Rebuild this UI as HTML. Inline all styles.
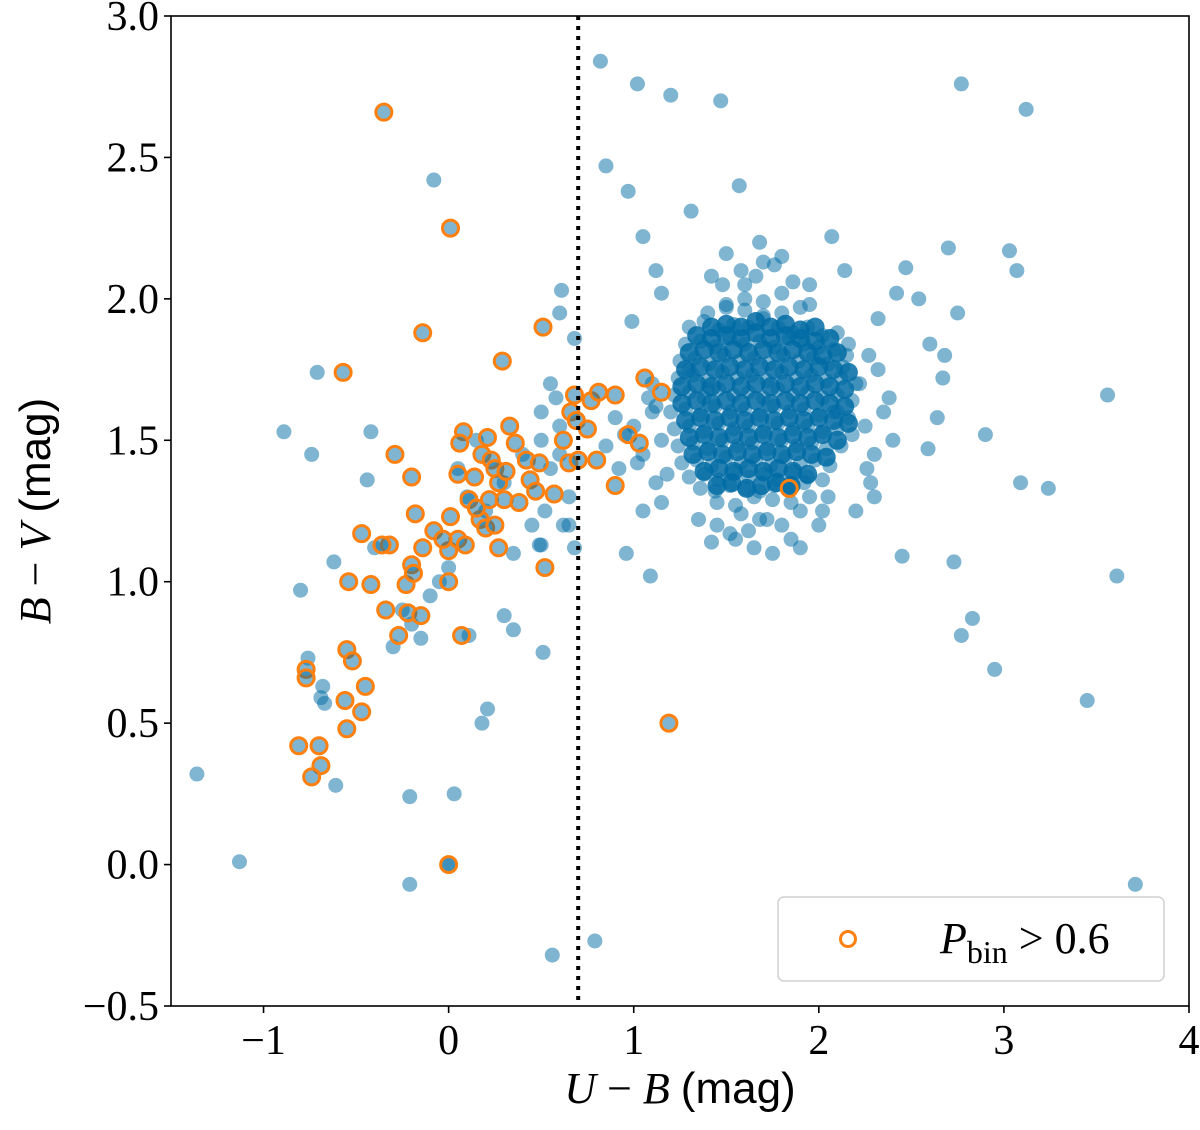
<!DOCTYPE html>
<html><head><meta charset="utf-8"><style>
body{margin:0;background:#fff}
svg text{font-family:"Liberation Serif",serif;fill:#000}
</style></head><body>
<svg id="chart" width="1200" height="1125" viewBox="0 0 1200 1125" xmlns="http://www.w3.org/2000/svg">
<g id="blue"></g>
<g id="orange"></g>
<line id="vline" stroke="#000" stroke-width="4" stroke-dasharray="4,6"/>
<rect x="171" y="16" width="1018" height="990" fill="none" stroke="#000" stroke-width="1.6"/>
<g id="xticks"></g>
<g id="yticks"></g>
<text x="680" y="1103" text-anchor="middle" font-size="44"><tspan font-style="italic">U</tspan> − <tspan font-style="italic">B</tspan> <tspan font-family="Liberation Sans">(mag)</tspan></text>
<text transform="translate(50,511) rotate(-90)" text-anchor="middle" font-size="44"><tspan font-style="italic">B</tspan> − <tspan font-style="italic">V</tspan> <tspan font-family="Liberation Sans">(mag)</tspan></text>
<g>
<rect x="778" y="897" width="386" height="84" rx="6" fill="#fff" fill-opacity="0.8" stroke="#d0d0d0" stroke-width="1.5"/>
<circle cx="848" cy="939" r="7.5" fill="none" stroke="#ff800e" stroke-width="3"/>
<text x="940" y="953" font-size="44"><tspan font-style="italic">P</tspan><tspan font-size="32" dy="10">bin</tspan><tspan dy="-10"> &gt; 0.6</tspan></text>
</g>
</svg>
<script>
const xTicks=[-1,0,1,2,3,4];
const yTicks=[-0.5,0,0.5,1,1.5,2,2.5,3];
const threshold=0.7;
const blueX=[0.82,1.02,1.2,1.47,2.77,3.12,-0.08,0.85,0.97,1.31,1.57,1.05,1.68,2.07,2.7,3.03,3.07,2.47,2.14,1.12,1.42,1.15,2.42,2.54,2.75,2.32,0.99,2.6,2.68,2.67,3.56,-0.89,-0.71,-0.74,-0.42,-0.44,-0.8,-0.62,2.9,2.64,2.59,2.45,2.73,3.09,3.24,3.61,2.83,2.77,2.95,3.45,3.71,-1.36,-1.13,-0.21,0.03,-0.21,0.56,0.79,0.21,0.18,0.51,0.3,0.35,0.11,0.96,1.09,0.49,-0.76,-0.68,-0.69,-0.67,-0.61,0,0.61,0.6,0.68,0.58,
0.1,0.2,0.3,0.4,0.5,0.55,0.6,0.65,0.45,0.35,0,-0.1,-0.2,-0.05,-0.25,-0.3,-0.15,0.05,0.15,0.5,0.6,0.55,0.65,0.68,0.62,0.52,-0.4,0.5,
1.3,1.38,1.46,1.54,1.62,1.7,1.78,1.86,1.94,2.02,2.1,
1.28,1.36,1.44,1.52,1.6,1.68,1.76,1.84,1.92,2.0,2.08,2.16,
1.25,1.33,1.41,1.49,1.57,1.65,1.73,1.81,1.89,1.97,2.05,2.13,
1.24,1.32,1.4,1.48,1.56,1.64,1.72,1.8,1.88,1.96,2.04,2.12,2.2,
1.22,1.3,1.38,1.46,1.54,1.62,1.7,1.78,1.86,1.94,2.02,2.1,2.18,
1.2,1.28,1.36,1.44,1.52,1.6,1.68,1.76,1.84,1.92,2.0,2.08,2.16,
1.22,1.3,1.38,1.46,1.54,1.62,1.7,1.78,1.86,1.94,2.02,2.1,2.18,
1.24,1.32,1.4,1.48,1.56,1.64,1.72,1.8,1.88,1.96,2.04,2.12,
1.26,1.34,1.42,1.5,1.58,1.66,1.74,1.82,1.9,1.98,2.06,
1.3,1.38,1.46,1.54,1.62,1.7,1.78,1.86,1.94,2.02,
1.36,1.44,1.52,1.6,1.68,1.76,1.84,1.92,
1.4,1.5,1.6,1.7,1.8,
1.5,1.6,1.7,1.8,1.9,
1.45,1.55,1.65,1.75,1.85,1.95,
1.0,1.05,1.1,1.15,1.12,1.08,1.02,0.95,0.9,1.18,1.15,1.1,1.05,1.12,0.85,0.92,
2.25,2.3,2.35,2.28,2.22,2.4,2.32,2.26,2.38,2.3,2.2,2.27,
1.35,1.45,1.55,1.62,1.72,1.8,1.9,1.48,1.58,1.66,1.76,1.86,1.95,2.02,1.42,1.52,1.85,1.75,1.65,2.0,2.1,1.95,1.6,1.4,1.7,1.8,1.5,1.9,2.05,1.3,2.15,1.58,1.68];
const blueY=[2.84,2.76,2.72,2.70,2.76,2.67,2.42,2.47,2.38,2.31,2.40,2.22,2.20,2.22,2.18,2.17,2.10,2.11,2.10,2.10,2.08,2.02,2.02,2.0,1.95,1.93,1.92,1.84,1.80,1.72,1.66,1.53,1.74,1.45,1.53,1.36,0.97,1.07,1.52,1.58,1.47,1.09,1.07,1.35,1.33,1.02,0.87,0.81,0.69,0.58,-0.07,0.32,0.01,0.24,0.25,-0.07,-0.32,-0.27,0.55,0.50,0.75,0.88,0.83,0.81,1.10,1.02,1.13,0.73,0.63,0.59,0.57,0.28,0,2.03,1.95,1.86,1.65,
1.3,1.25,1.35,1.45,1.5,1.4,1.45,1.2,1.2,1.1,1.05,0.95,0.85,1.0,0.9,0.77,0.8,1.4,1.5,1.6,1.55,1.7,1.3,1.12,1.2,1.25,1.12,1.13,
1.9,1.92,1.89,1.91,1.9,1.93,1.9,1.88,1.9,1.87,1.88,
1.84,1.85,1.83,1.86,1.84,1.85,1.83,1.86,1.84,1.83,1.82,1.84,
1.78,1.79,1.77,1.8,1.78,1.79,1.77,1.8,1.78,1.79,1.77,1.76,
1.72,1.73,1.71,1.74,1.72,1.73,1.71,1.74,1.72,1.73,1.71,1.72,1.7,
1.66,1.67,1.65,1.68,1.66,1.67,1.65,1.68,1.66,1.67,1.65,1.66,1.64,
1.6,1.61,1.59,1.62,1.6,1.61,1.59,1.62,1.6,1.61,1.59,1.6,1.58,
1.54,1.55,1.53,1.56,1.54,1.55,1.53,1.56,1.54,1.55,1.53,1.54,1.52,
1.48,1.49,1.47,1.5,1.48,1.49,1.47,1.5,1.48,1.49,1.47,1.48,
1.42,1.43,1.41,1.44,1.42,1.43,1.41,1.44,1.42,1.43,1.41,
1.37,1.38,1.36,1.39,1.37,1.38,1.36,1.39,1.37,1.36,
1.33,1.32,1.34,1.33,1.32,1.34,1.33,1.35,
1.95,1.97,1.96,1.94,1.95,
1.98,2.0,1.99,2.02,1.97,
1.28,1.27,1.3,1.29,1.28,1.3,
1.55,1.45,1.6,1.5,1.35,1.65,1.42,1.52,1.58,1.38,1.28,1.7,1.25,1.62,1.48,1.4,
1.55,1.45,1.6,1.35,1.7,1.5,1.75,1.4,1.65,1.3,1.25,1.8,
1.22,1.2,1.15,1.18,1.22,1.2,1.12,2.05,2.1,2.08,2.12,2.06,2.05,1.25,1.14,1.17,1.15,1.1,1.12,1.2,1.6,1.98,2.05,1.68,2.13,2.15,2.16,1.25,1.3,1.75,1.8,1.24,1.22];
const coreX=[1.42,1.5,1.58,1.66,1.74,1.82,1.9,1.98,
1.34,1.42,1.5,1.58,1.66,1.74,1.82,1.9,1.98,2.06,
1.3,1.38,1.46,1.54,1.62,1.7,1.78,1.86,1.94,2.02,2.1,
1.28,1.36,1.44,1.52,1.6,1.68,1.76,1.84,1.92,2.0,2.08,2.16,
1.26,1.34,1.42,1.5,1.58,1.66,1.74,1.82,1.9,1.98,2.06,2.14,
1.26,1.34,1.42,1.5,1.58,1.66,1.74,1.82,1.9,1.98,2.06,2.14,
1.28,1.36,1.44,1.52,1.6,1.68,1.76,1.84,1.92,2.0,2.08,2.16,
1.3,1.38,1.46,1.54,1.62,1.7,1.78,1.86,1.94,2.02,2.1,
1.32,1.4,1.48,1.56,1.64,1.72,1.8,1.88,1.96,2.04,
1.38,1.46,1.54,1.62,1.7,1.78,1.86,1.94,
1.45,1.53,1.61,1.69,1.77,1.85];
const coreY=[1.9,1.91,1.9,1.92,1.9,1.91,1.89,1.9,
1.87,1.86,1.87,1.86,1.88,1.86,1.87,1.86,1.85,1.86,
1.81,1.82,1.81,1.82,1.81,1.82,1.81,1.82,1.81,1.8,1.81,
1.75,1.76,1.75,1.76,1.75,1.76,1.75,1.76,1.75,1.76,1.75,1.74,
1.69,1.7,1.69,1.7,1.69,1.7,1.69,1.7,1.69,1.7,1.69,1.68,
1.63,1.64,1.63,1.64,1.63,1.64,1.63,1.64,1.63,1.64,1.63,1.62,
1.57,1.58,1.57,1.58,1.57,1.58,1.57,1.58,1.57,1.58,1.57,1.56,
1.51,1.52,1.51,1.52,1.51,1.52,1.51,1.52,1.51,1.52,1.5,
1.45,1.46,1.45,1.46,1.45,1.46,1.45,1.46,1.45,1.44,
1.39,1.4,1.39,1.4,1.39,1.4,1.39,1.38,
1.34,1.35,1.33,1.34,1.35,1.34];
const orangeX=[-0.35,0.01,-0.14,-0.57,0.51,0.29,-0.29,0.08,-0.2,-0.18,-0.47,-0.32,-0.36,-0.14,0.01,0.05,-0.54,-0.42,-0.23,-0.2,-0.19,-0.34,-0.22,-0.15,-0.27,0,0,0.07,-0.55,-0.52,-0.77,-0.77,-0.45,-0.56,-0.47,-0.55,-0.81,-0.7,-0.69,-0.74,0,1.19,0.52,
-0.08,0.05,0.09,0.11,0.14,0.18,0.21,0.23,0.25,0.27,0.22,0.17,0.2,0.25,0.27,0.3,0.33,0.36,0.38,0.42,0.44,0.49,0.47,0.57,0.65,0.66,0.68,0.69,0.75,0.77,0.81,0.8,0.7,0.9,1.06,1.15,0.97,1.03,0.9,1.84,0.62,0.31,0.15,-0.03,0.06];
const orangeY=[2.66,2.25,1.88,1.74,1.90,1.78,1.45,1.53,1.37,1.24,1.17,1.13,1.13,1.12,1.23,1.38,1.0,0.99,0.99,1.06,1.03,0.90,0.89,0.88,0.81,1.0,1.11,0.81,0.76,0.72,0.69,0.66,0.63,0.58,0.54,0.48,0.42,0.42,0.35,0.31,0,0.50,1.05,
1.18,1.15,1.13,1.29,1.37,1.45,1.51,1.43,1.40,1.35,1.29,1.22,1.19,1.2,1.12,1.29,1.55,1.49,1.28,1.43,1.36,1.42,1.32,1.31,1.42,1.6,1.66,1.57,1.54,1.64,1.67,1.43,1.43,1.66,1.72,1.67,1.52,1.49,1.34,1.33,1.5,1.39,1.26,1.15,1.49];

const X0=171,X1=1189,Y0=1006,Y1=16;
const xs=v=>X0+(v-(-1.5))/(4-(-1.5))*(X1-X0);
const ys=v=>Y0-(v-(-0.5))/(3-(-0.5))*(Y0-Y1);
const NS='http://www.w3.org/2000/svg';
function mk(tag,attrs,parent){const e=document.createElementNS(NS,tag);for(const k in attrs)e.setAttribute(k,attrs[k]);parent.appendChild(e);return e;}
const gb=document.getElementById('blue');
for(let i=0;i<blueX.length;i++){
  const c=mk('circle',{cx:xs(blueX[i]),cy:ys(blueY[i]),r:7.5,fill:'#006ba4','fill-opacity':0.5},gb);
  
  
}
for(let i=0;i<coreX.length;i++){
  const c=mk('circle',{cx:xs(coreX[i]),cy:ys(coreY[i]),r:9.5,fill:'#006ba4','fill-opacity':0.85},gb);
  
  
}
const go=document.getElementById('orange');
for(let i=0;i<orangeX.length;i++){
  const b=mk('circle',{cx:xs(orangeX[i]),cy:ys(orangeY[i]),r:7.5,fill:'#006ba4','fill-opacity':0.5},go);
  
  
  const c=mk('circle',{cx:xs(orangeX[i]),cy:ys(orangeY[i]),r:8,fill:'none',stroke:'#ff800e','stroke-width':3},go);
  
  
}
const vl=document.getElementById('vline');
vl.setAttribute('x1',xs(threshold));vl.setAttribute('x2',xs(threshold));
vl.setAttribute('y1',Y1);vl.setAttribute('y2',Y0);
const gx=document.getElementById('xticks');
xTicks.forEach(t=>{
  const l=mk('line',{x1:xs(t),x2:xs(t),y1:Y0,y2:Y0+7,stroke:'#000','stroke-width':1.6},gx);
  
  
  const tx=mk('text',{x:xs(t),y:Y0+48,'text-anchor':'middle','font-size':42},gx);
  
  
  tx.textContent=t<0?'−'+Math.abs(t):String(t);
});
const gy=document.getElementById('yticks');
yTicks.forEach(t=>{
  const l=mk('line',{x1:X0-7,x2:X0,y1:ys(t),y2:ys(t),stroke:'#000','stroke-width':1.6},gy);
  
  
  const tx=mk('text',{x:X0-12,y:ys(t)+14,'text-anchor':'end','font-size':42},gy);
  
  
  tx.textContent=(t<0?'−':'')+Math.abs(t).toFixed(1);
});
</script>
</body></html>
